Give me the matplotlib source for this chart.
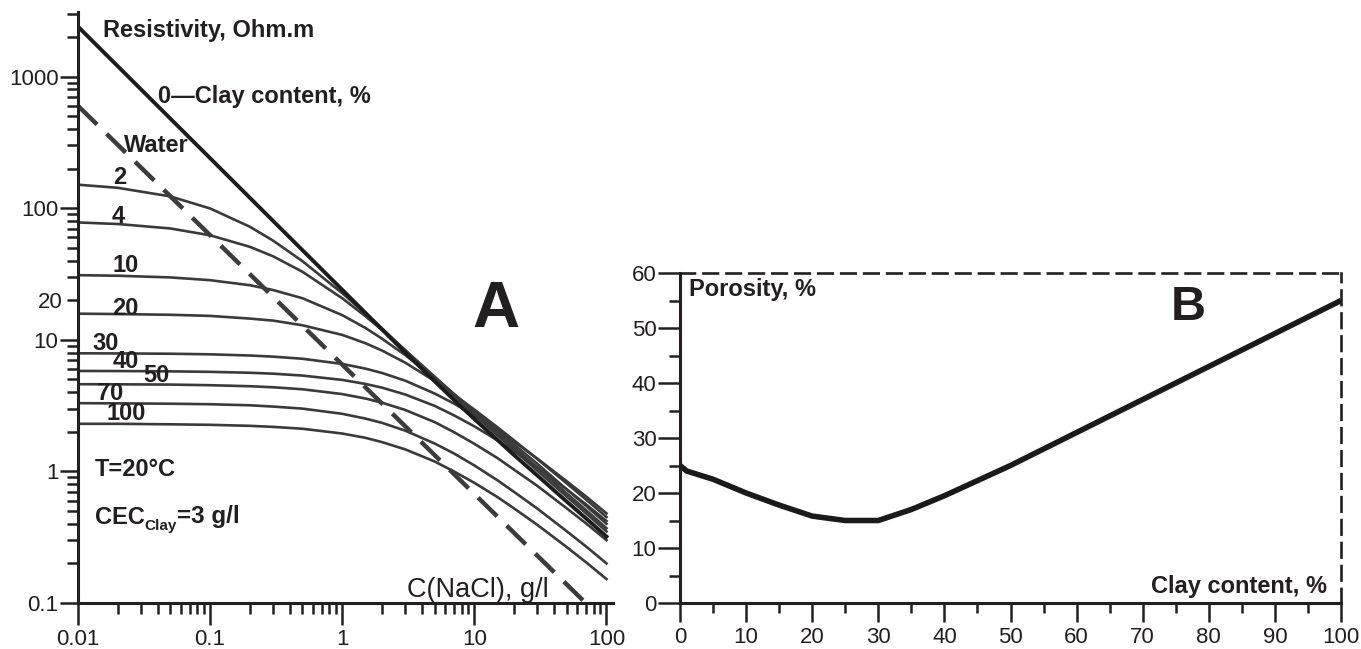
"""Resistivity of clay-sand mixtures vs NaCl concentration (A) and porosity vs clay content (B)."""
import matplotlib
matplotlib.use("Agg")
import matplotlib.pyplot as plt
from matplotlib.ticker import FixedLocator, FuncFormatter, LogLocator, MultipleLocator, NullFormatter

plt.rcParams["font.family"] = ["Liberation Sans", "DejaVu Sans"]

INK = "#231f20"
CURVE = "#3a3a3a"
W, H = 1361, 649

# -- data, panel A: resistivity (Ohm.m) vs C(NaCl) (g/l) ---------------------
C_NACL = [0.01, 0.02, 0.05, 0.1, 0.2, 0.3, 0.5, 1, 1.5, 2, 3, 5, 7, 10, 15, 20, 30, 50, 70, 100]
RHO_CLAY0 = [2400, 1200, 480, 240, 120, 80, 48, 24, 16, 12, 8.0, 4.85, 3.5, 2.50,
             1.73, 1.33, 0.93, 0.59, 0.44, 0.32]
RHO_2 = [151, 143, 123, 99.6, 72.3, 56.7, 39.6, 22.6, 15.8, 12.2, 8.32, 5.15, 3.75, 2.69,
         1.87, 1.45, 1.01, 0.644, 0.481, 0.350]
RHO_4 = [78.0, 75.9, 70.2, 62.3, 50.9, 43.1, 32.9, 20.7, 15.1, 11.9, 8.33, 5.26, 3.87, 2.80,
         1.96, 1.52, 1.07, 0.680, 0.508, 0.370]
RHO_10 = [31.0, 30.7, 29.8, 28.4, 26.0, 23.9, 20.7, 15.4, 12.3, 10.2, 7.65, 5.13, 3.88, 2.88,
          2.05, 1.60, 1.14, 0.730, 0.547, 0.400]
RHO_20 = [15.8, 15.7, 15.5, 15.2, 14.5, 14.0, 12.9, 10.9, 9.42, 8.29, 6.70, 4.87, 3.84, 2.95,
          2.16, 1.72, 1.24, 0.810, 0.612, 0.450]
RHO_30 = [7.90, 7.88, 7.84, 7.76, 7.60, 7.45, 7.18, 6.56, 6.04, 5.60, 4.89, 3.91, 3.28, 2.65,
          2.05, 1.68, 1.25, 0.842, 0.645, 0.480]
RHO_40 = [5.80, 5.79, 5.76, 5.71, 5.62, 5.53, 5.35, 4.96, 4.62, 4.33, 3.84, 3.15, 2.67, 2.20,
          1.72, 1.42, 1.07, 0.730, 0.562, 0.420]
RHO_50 = [4.60, 4.59, 4.57, 4.52, 4.44, 4.36, 4.21, 3.87, 3.58, 3.33, 2.93, 2.37, 1.99, 1.62,
          1.26, 1.03, 0.776, 0.524, 0.403, 0.300]
RHO_70 = [3.30, 3.29, 3.27, 3.24, 3.18, 3.11, 3.00, 2.74, 2.52, 2.34, 2.04, 1.63, 1.37, 1.11,
          0.854, 0.698, 0.521, 0.351, 0.269, 0.200]
RHO_100 = [2.30, 2.30, 2.28, 2.26, 2.22, 2.18, 2.11, 1.94, 1.80, 1.67, 1.47, 1.19, 1.00, 0.819,
           0.637, 0.523, 0.392, 0.266, 0.204, 0.152]

# pore water is a straight line on log-log axes
C_WATER = [0.01, 100]
RHO_WATER = [600, 0.07]

# -- data, panel B: porosity (%) vs clay content (%) ------------------------
CLAY_PCT = [0, 1, 5, 10, 15, 20, 25, 30, 35, 40, 50, 60, 70, 80, 90, 100]
POROSITY = [25, 24, 22.5, 20, 17.8, 15.8, 15, 15, 17, 19.5, 25, 31, 37, 43, 49, 55]


def fig_text(x, y, s, **kw):
    """Place text at pixel position of the reference picture."""
    kw.setdefault("color", INK)
    kw.setdefault("fontweight", "bold")
    kw.setdefault("fontsize", 17)
    kw.setdefault("va", "center")
    return fig.text(x / W, 1 - y / H, s, **kw)


fig = plt.figure(figsize=(W / 100, H / 100), dpi=100)
ax_a = fig.add_axes([78 / W, 46 / H, 535 / W, 591 / H])
ax_b = fig.add_axes([680 / W, 46 / H, 661 / W, 330 / H])

# -- panel A -----------------------------------------------------------------
for rho in (RHO_2, RHO_4, RHO_10, RHO_20, RHO_30, RHO_40, RHO_50, RHO_70, RHO_100):
    ax_a.plot(C_NACL, rho, color=CURVE, lw=1.9)
ax_a.plot(C_NACL, RHO_CLAY0, color="#1c1c1c", lw=2.8)
ax_a.plot(C_WATER, RHO_WATER, color="#3c3c3c", lw=3.2, dashes=(6, 3))

ax_a.set_xscale("log")
ax_a.set_yscale("log")
ax_a.set_xlim(0.01, 112)
ax_a.set_ylim(0.1, 3100)
for side in ("top", "right"):
    ax_a.spines[side].set_visible(False)
for side in ("left", "bottom"):
    ax_a.spines[side].set_linewidth(2.2)
    ax_a.spines[side].set_color(INK)

fmt = FuncFormatter(lambda v, p: f"{v:g}")
ax_a.xaxis.set_major_locator(FixedLocator([0.01, 0.1, 1, 10, 100]))
ax_a.xaxis.set_major_formatter(fmt)
ax_a.xaxis.set_minor_locator(LogLocator(base=10, subs=range(2, 10), numticks=20))
ax_a.xaxis.set_minor_formatter(NullFormatter())
ax_a.yaxis.set_major_locator(FixedLocator([0.1, 1, 10, 100, 1000]))
ax_a.yaxis.set_major_formatter(fmt)
ax_a.yaxis.set_minor_locator(LogLocator(base=10, subs=range(2, 10), numticks=20))
ax_a.yaxis.set_minor_formatter(FuncFormatter(lambda v, p: "20" if abs(v - 20) < 1e-6 else ""))

ax_a.tick_params(which="both", direction="out", width=1.8, color=INK,
                 labelcolor=INK, labelsize=16)
ax_a.tick_params(axis="x", which="major", length=16, pad=3)
ax_a.tick_params(axis="x", which="minor", length=8)
ax_a.tick_params(axis="y", which="major", length=13, pad=1)
ax_a.tick_params(axis="y", which="minor", length=8, pad=3)

fig_text(103, 30, "Resistivity, Ohm.m")
fig_text(158, 97, "0\u2014Clay content, %")
fig_text(124, 146, "Water")
for label, (x, y) in {"2": (113, 177), "4": (112, 216), "10": (112, 266),
                      "20": (112, 308), "30": (92, 343), "40": (113, 361),
                      "50": (143, 375), "70": (97, 393), "100": (106, 414)}.items():
    fig_text(x, y, label)
fig_text(496, 310, "A", fontsize=47, ha="center")
fig_text(95, 470, "T=20\u00b0C")
cec = fig_text(95, 517, "CEC")
sub = ax_a.annotate("Clay", xy=(1, 0.12), xycoords=cec, va="center", ha="left",
                    fontsize=11, fontweight="bold", color=INK)
ax_a.annotate("=3 g/l", xy=(1, 0), xycoords=(sub, cec), va="bottom", ha="left",
              fontsize=17.5, fontweight="bold", color=INK)
fig_text(407, 597, "C(NaCl), g/l", fontweight="normal", fontsize=19.5, va="baseline")

# -- panel B -----------------------------------------------------------------
ax_b.plot(CLAY_PCT, POROSITY, color="#1a1a1a", lw=4, solid_joinstyle="round",
          solid_capstyle="butt")
ax_b.set_xlim(0, 100)
ax_b.set_ylim(0, 60)
for side in ("left", "bottom"):
    ax_b.spines[side].set_linewidth(2.2)
    ax_b.spines[side].set_color(INK)
for side in ("top", "right"):
    ax_b.spines[side].set_linewidth(1.9)
    ax_b.spines[side].set_color(INK)
    ax_b.spines[side].set_linestyle((0, (5.5, 3.2)))

ax_b.xaxis.set_major_locator(MultipleLocator(10))
ax_b.xaxis.set_minor_locator(MultipleLocator(5))
ax_b.yaxis.set_major_locator(MultipleLocator(10))
ax_b.yaxis.set_minor_locator(MultipleLocator(5))
ax_b.tick_params(which="both", direction="out", width=1.8, color=INK,
                 labelcolor=INK, labelsize=16)
ax_b.tick_params(axis="x", which="major", length=14, pad=3)
ax_b.tick_params(axis="x", which="minor", length=7)
ax_b.tick_params(axis="y", which="major", length=16, pad=1)
ax_b.tick_params(axis="y", which="minor", length=8)

fig_text(689, 289, "Porosity, %")
fig_text(1188, 307, "B", fontsize=35, ha="center")
fig_text(1327, 586, "Clay content, %", ha="right")

fig.savefig("out.png", dpi=100, facecolor="white")
